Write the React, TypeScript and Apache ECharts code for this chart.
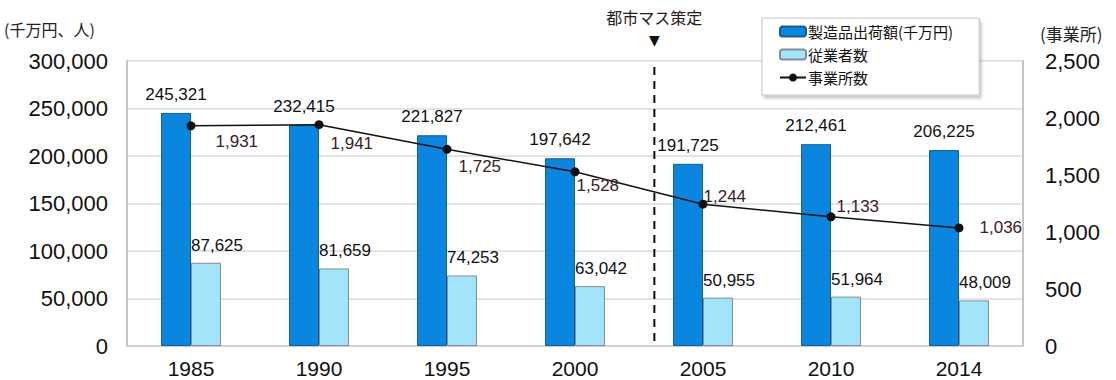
import React, { useEffect, useRef } from "react";
import * as echarts from "echarts";

const years = ["1985", "1990", "1995", "2000", "2005", "2010", "2014"];
const shipments = [245321, 232415, 221827, 197642, 191725, 212461, 206225];
const employees = [87625, 81659, 74253, 63042, 50955, 51964, 48009];
const establishments = [1931, 1941, 1725, 1528, 1244, 1133, 1036];
const seriesNames = ["製造品出荷額(千万円)", "従業者数", "事業所数"];
const leftTitle = "(千万円、人)";
const rightTitle = "(事業所)";
const planLabel = "都市マス策定";

// per-point nudges for the establishment labels
const lineLabelOffsets: [number, number][] = [
  [12, 16],
  [-1, 19],
  [-1, 17],
  [-11, 14],
  [-12, -8],
  [-7, -10],
  [8, 0],
];

const FONT = "'Liberation Sans', Arial, sans-serif";
const CJK = "'Noto Sans CJK JP', sans-serif";
const fmt = (v: number) => v.toLocaleString("en-US");

export default function App() {
  const ref = useRef<HTMLDivElement>(null);

  useEffect(() => {
    if (!ref.current) return;
    document.body.style.margin = "0";
    const chart = echarts.init(ref.current, null, { renderer: "svg" });
    chart.setOption({
      animation: false,
      textStyle: { fontFamily: FONT },
      grid: { left: 127, right: 93, top: 61, bottom: 34 },
      legend: {
        orient: "vertical",
        left: 762,
        top: 18,
        itemGap: 8,
        itemWidth: 26,
        itemHeight: 10,
        padding: [6, 26, 10, 17],
        backgroundColor: "#fff",
        borderColor: "#c4c4c4",
        borderWidth: 1,
        shadowColor: "rgba(0,0,0,0.22)",
        shadowBlur: 3,
        shadowOffsetX: 2,
        shadowOffsetY: 3,
        textStyle: { fontSize: 15, color: "#111", fontFamily: CJK, padding: [0, 0, 0, -3] },
        data: seriesNames,
      },
      xAxis: {
        type: "category",
        data: years,
        axisTick: { show: false },
        axisLine: { lineStyle: { color: "#cfcfcf", width: 2 } },
        axisLabel: { fontSize: 21, color: "#111", margin: 12 },
      },
      yAxis: [
        {
          type: "value",
          min: 0,
          max: 300000,
          interval: 50000,
          axisLine: { show: true, lineStyle: { color: "#c4c4c4", width: 2 } },
          axisLabel: { fontSize: 22, color: "#111", formatter: (v: number) => fmt(v), margin: 19 },
          splitLine: { lineStyle: { color: "#dadada", width: 1.5 } },
        },
        {
          type: "value",
          min: 0,
          max: 2500,
          interval: 500,
          axisLine: { show: true, lineStyle: { color: "#c4c4c4", width: 2 } },
          axisLabel: { fontSize: 22, color: "#111", formatter: (v: number) => fmt(v), margin: 22 },
          splitLine: { show: false },
        },
      ],
      series: [
        {
          name: seriesNames[0],
          type: "bar",
          data: shipments,
          barWidth: 30,
          barGap: "0%",
          itemStyle: { color: "#0b86de", borderColor: "#1b5c8e", borderWidth: 1 },
          label: {
            show: true,
            position: "top",
            distance: 10,
            fontSize: 17,
            color: "#111",
            formatter: (p: any) => fmt(p.value),
          },
        },
        {
          name: seriesNames[1],
          type: "bar",
          data: employees,
          barWidth: 30,
          itemStyle: { color: "#a3e4fb", borderColor: "#7f8f95", borderWidth: 1 },
          label: {
            show: true,
            position: "top",
            distance: 9,
            offset: [11, 0],
            fontSize: 17,
            color: "#111",
            formatter: (p: any) => fmt(p.value),
          },
        },
        {
          name: seriesNames[2],
          type: "line",
          yAxisIndex: 1,
          data: establishments.map((v, i) => ({
            value: v,
            label: { offset: lineLabelOffsets[i] },
          })),
          symbol: "circle",
          symbolSize: 9,
          lineStyle: { color: "#111", width: 1.5 },
          itemStyle: { color: "#111" },
          label: {
            show: true,
            position: "right",
            distance: 8,
            fontSize: 17,
            color: "#3a2222",
            formatter: (p: any) => fmt(p.value),
          },
          z: 5,
        },
      ],
    });

    // planning-year marker placed between 2000 and 2005
    const p3 = chart.convertToPixel({ xAxisIndex: 0 }, 3) as number;
    const p4 = chart.convertToPixel({ xAxisIndex: 0 }, 4) as number;
    const x = p3 + (p4 - p3) * 0.62;
    const yTop = chart.convertToPixel({ yAxisIndex: 0 }, 300000) as number;
    const yBottom = chart.convertToPixel({ yAxisIndex: 0 }, 0) as number;
    chart.setOption({
      graphic: [
        {
          type: "line",
          shape: { x1: x, y1: yTop + 6, x2: x, y2: yBottom },
          style: { stroke: "#111", lineWidth: 2, lineDash: [8, 6] },
          z: 10,
        },
        {
          type: "text",
          x,
          y: 40,
          style: { text: "▼", fontSize: 14, fill: "#111", align: "center", verticalAlign: "middle", fontFamily: "'DejaVu Sans', sans-serif" },
          z: 10,
        },
        {
          type: "text",
          x,
          y: 17,
          style: { text: planLabel, fontSize: 16, fill: "#2a1a1a", align: "center", verticalAlign: "middle", fontFamily: CJK },
          z: 10,
        },
        {
          type: "text",
          x: 4,
          y: 29,
          style: { text: leftTitle, fontSize: 16, fill: "#222", verticalAlign: "middle", fontFamily: CJK },
        },
        {
          type: "text",
          x: 1040,
          y: 33,
          style: { text: rightTitle, fontSize: 17, fill: "#222", verticalAlign: "middle", fontFamily: CJK },
        },
      ],
    });

    return () => chart.dispose();
  }, []);

  return <div ref={ref} style={{ width: 1116, height: 380 }} />;
}
